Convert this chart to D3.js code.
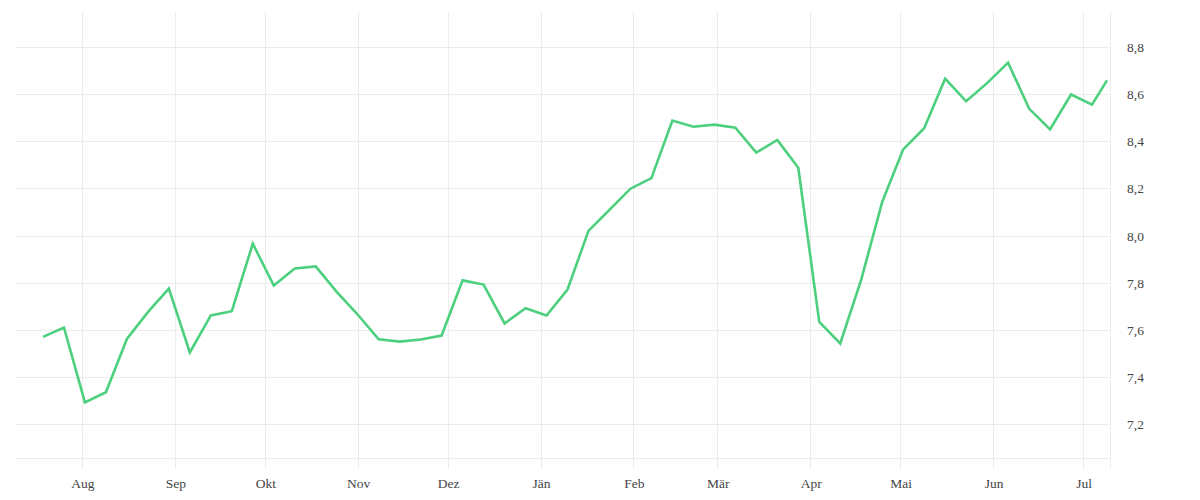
<!DOCTYPE html>
<html><head><meta charset="utf-8">
<script src="https://cdn.jsdelivr.net/npm/d3@7"></script>
<style>
body{margin:0;background:#fff;}
svg text{font-family:"Liberation Serif","DejaVu Serif",serif;font-size:13.5px;fill:#444;}
</style></head>
<body><svg id="c" width="1200" height="500"></svg>
<script>
const dates = ["2022-07-19","2022-07-26","2022-08-02","2022-08-09","2022-08-16","2022-08-23","2022-08-30",
"2022-09-06","2022-09-13","2022-09-20","2022-09-27","2022-10-04","2022-10-11","2022-10-18","2022-10-25",
"2022-11-01","2022-11-08","2022-11-15","2022-11-22","2022-11-29","2022-12-06","2022-12-13","2022-12-20",
"2022-12-27","2023-01-03","2023-01-10","2023-01-17","2023-01-24","2023-01-31","2023-02-07","2023-02-14",
"2023-02-21","2023-02-28","2023-03-07","2023-03-14","2023-03-21","2023-03-28","2023-04-04","2023-04-11",
"2023-04-18","2023-04-25","2023-05-02","2023-05-09","2023-05-16","2023-05-23","2023-05-30","2023-06-06",
"2023-06-13","2023-06-20","2023-06-27","2023-07-04","2023-07-09"];
const values = [7.570,7.610,7.292,7.335,7.561,7.675,7.775,7.504,7.661,7.679,7.966,7.788,7.860,7.869,7.761,
7.665,7.560,7.550,7.559,7.576,7.810,7.792,7.627,7.692,7.661,7.771,8.020,8.109,8.199,8.244,8.488,
8.462,8.471,8.458,8.352,8.406,8.288,7.634,7.542,7.813,8.143,8.366,8.456,8.666,8.570,8.647,8.734,
8.539,8.451,8.599,8.556,8.659];
const monthLabels = ["Aug","Sep","Okt","Nov","Dez","Jän","Feb","Mär","Apr","Mai","Jun","Jul"];
const yTicks = [7.2,7.4,7.6,7.8,8.0,8.2,8.4,8.6,8.8];
const xDomain = ["2022-07-10","2023-07-10"];
const yDomain = [7.056,8.949];

const parse = d3.utcParse("%Y-%m-%d");
const data = dates.map((d,i)=>({date:parse(d),value:values[i]}));
const L=16,R=1110,T=12,B=458;
const svg = d3.select("#c");
const x = d3.scaleUtc().domain(xDomain.map(parse)).range([L,R]);
const y = d3.scaleLinear().domain(yDomain).range([B,T]);

const monthTicks = d3.utcMonth.range(parse("2022-08-01"), parse("2023-07-02"));
// vertical gridlines
svg.append("g").selectAll("line").data(monthTicks).join("line")
  .attr("x1",d=>Math.round(x(d))+0.5).attr("x2",d=>Math.round(x(d))+0.5)
  .attr("y1",T).attr("y2",469).attr("stroke","#ececec").attr("stroke-width",1);
svg.append("line").attr("x1",R+0.5).attr("x2",R+0.5).attr("y1",T).attr("y2",469)
  .attr("stroke","#ececec");
// horizontal gridlines
svg.append("g").selectAll("line").data(yTicks).join("line")
  .attr("x1",L).attr("x2",R).attr("y1",d=>Math.round(y(d))+0.5).attr("y2",d=>Math.round(y(d))+0.5)
  .attr("stroke","#ececec");
svg.append("line").attr("x1",L).attr("x2",R).attr("y1",B+0.5).attr("y2",B+0.5).attr("stroke","#ececec");

// x labels
svg.append("g").selectAll("text").data(monthTicks).join("text")
  .attr("x",d=>x(d)+1).attr("y",488).attr("text-anchor","middle")
  .text((d,i)=>monthLabels[i]);
// y labels
const fmt = v=>d3.format(".1f")(v).replace(".",",");
svg.append("g").selectAll("text").data(yTicks).join("text")
  .attr("x",1127).attr("y",d=>y(d)+5).attr("text-anchor","start").text(fmt);

// line
svg.append("path").datum(data)
  .attr("d",d3.line().x(d=>x(d.date)).y(d=>y(d.value)))
  .attr("fill","none").attr("stroke","#4cd07d").attr("stroke-width",2.6)
  .attr("stroke-linejoin","miter");
</script></body></html>
